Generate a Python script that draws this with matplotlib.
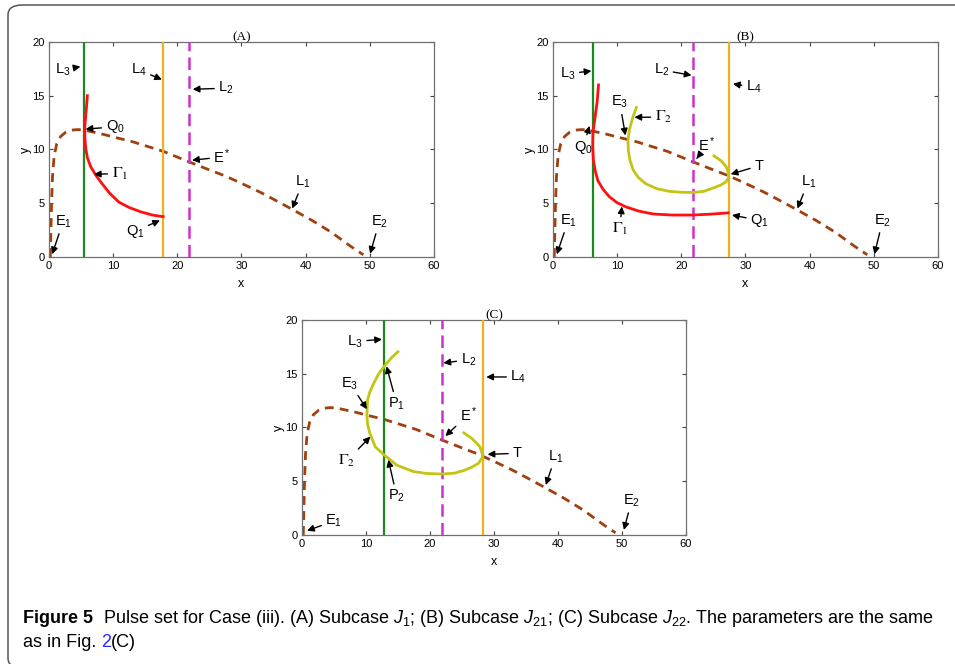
import matplotlib
matplotlib.use('Agg')
import matplotlib.pyplot as plt
from matplotlib.patches import FancyBboxPatch

plt.rcParams['font.family'] = ['Liberation Sans', 'DejaVu Sans']
plt.rcParams['mathtext.fontset'] = 'custom'
plt.rcParams['mathtext.rm'] = 'Liberation Sans'
plt.rcParams['mathtext.it'] = 'Liberation Sans:italic'
plt.rcParams['mathtext.bf'] = 'Liberation Sans:bold'

# prey nullcline L1 (same in all panels)
l1_x = [0.2, 0.3, 0.4, 0.55, 0.8, 1.2, 1.8, 2.6, 3.5, 4.5, 5.5, 7.0, 8.5, 10.1, 12.85, 15.0,
        17.8, 21.85, 25.0, 27.4, 30.0, 33.0, 36.0, 38.0, 41.0, 44.0, 47.0, 49.0]
l1_y = [0.0, 2.5, 5.0, 7.5, 9.4, 10.5, 11.2, 11.6, 11.8, 11.85, 11.8, 11.6, 11.4, 11.15, 10.75, 10.35,
        9.83, 8.84, 8.1, 7.55, 6.85, 6.0, 5.05, 4.4, 3.4, 2.3, 1.0, 0.2]

# vertical lines: L3, L2, L4
l3_pos = [5.4, 6.23, 12.85]
l2_pos = [21.85, 21.87, 21.85]
l4_pos = [17.8, 27.4, 28.25]

# Gamma_1 (red) in panels A and B
g1a_x = [5.98, 5.85, 5.7, 5.6, 5.57, 5.6, 5.75, 6.0, 6.5, 7.3, 8.3, 9.5, 10.9, 12.5, 14.3, 16.1, 17.8]
g1a_y = [15.0, 14.0, 13.0, 12.3, 11.84, 11.0, 10.0, 9.2, 8.4, 7.6, 6.8, 5.9, 5.1, 4.6, 4.2, 3.9, 3.75]
g1b_x = [7.1, 6.9, 6.5, 6.23, 6.2, 6.3, 6.6, 7.0, 7.8, 8.8, 10.0, 11.4, 13.5, 15.6, 18.5, 21.8, 24.5, 27.3]
g1b_y = [16.0, 14.5, 12.7, 11.6, 10.3, 9.0, 8.0, 7.1, 6.3, 5.6, 5.05, 4.65, 4.25, 4.0, 3.9, 3.9, 3.98, 4.1]

# Gamma_2 (yellow) in panels B and C
g2b_x = [13.0, 12.4, 11.9, 11.7, 11.75, 12.0, 12.5, 13.3, 14.5, 16.2, 18.2, 20.0, 21.8, 23.5, 24.9, 26.2, 27.0, 27.4, 27.3, 27.0, 26.2, 25.1]
g2b_y = [13.9, 12.9, 11.8, 10.8, 9.9, 9.0, 8.1, 7.4, 6.8, 6.35, 6.1, 6.02, 6.0, 6.1, 6.4, 6.7, 7.0, 7.4, 7.9, 8.4, 8.95, 9.4]
g2c_x = [15.0, 14.0, 13.0, 12.0, 11.2, 10.6, 10.25, 10.15, 10.25, 10.6, 11.45, 12.85, 14.8, 17.4, 19.5, 21.85, 23.8, 25.2, 26.5, 27.6, 28.25, 28.1, 27.8, 27.2, 26.5, 25.3]
g2c_y = [17.05, 16.5, 15.8, 15.0, 14.1, 13.3, 12.56, 11.16, 10.3, 9.46, 8.2, 7.44, 6.5, 5.9, 5.72, 5.67, 5.75, 5.98, 6.3, 6.67, 7.29, 7.7, 8.2, 8.6, 9.0, 9.5]

# annotations: (label, text x, text y, tip x, tip y, serif)
labels_a = [
    (r'$\mathrm{L}_3$', 2.1, 17.4, 4.9, 17.7, False),
    (r'$\mathrm{L}_4$', 14.0, 17.4, 17.6, 16.5, False),
    (r'$\mathrm{L}_2$', 27.6, 15.7, 22.4, 15.6, False),
    (r'$\mathrm{Q}_0$', 10.3, 12.1, 5.7, 11.9, False),
    (r'$\Gamma_1$', 11.0, 7.75, 7.0, 7.7, True),
    (r'$\mathrm{E}^*$', 27.0, 9.3, 22.3, 9.0, False),
    (r'$\mathrm{L}_1$', 39.6, 7.0, 37.9, 4.5, False),
    (r'$\mathrm{E}_2$', 51.5, 3.3, 50.05, 0.3, False),
    (r'$\mathrm{E}_1$', 2.2, 3.3, 0.5, 0.25, False),
    (r'$\mathrm{Q}_1$', 13.4, 2.4, 17.3, 3.4, False),
]
labels_b = [
    (r'$\mathrm{L}_3$', 2.3, 17.05, 6.0, 17.3, False),
    (r'$\mathrm{L}_2$', 16.9, 17.4, 21.6, 16.9, False),
    (r'$\mathrm{L}_4$', 31.3, 15.8, 28.05, 16.1, False),
    (r'$\mathrm{E}_3$', 10.4, 14.4, 11.3, 11.3, False),
    (r'$\Gamma_2$', 17.2, 13.0, 12.7, 13.0, True),
    (r'$\mathrm{Q}_0$', 4.7, 10.2, 5.7, 12.2, False),
    (r'$\mathrm{E}^*$', 24.0, 10.4, 22.4, 9.15, False),
    (r'$\mathrm{T}$', 32.2, 8.5, 27.7, 7.7, False),
    (r'$\mathrm{L}_1$', 39.8, 7.0, 38.1, 4.5, False),
    (r'$\Gamma_1$', 10.4, 2.6, 10.75, 4.7, True),
    (r'$\mathrm{Q}_1$', 32.2, 3.4, 27.9, 3.9, False),
    (r'$\mathrm{E}_1$', 2.4, 3.4, 0.6, 0.25, False),
    (r'$\mathrm{E}_2$', 51.4, 3.4, 50.1, 0.25, False),
]
labels_c = [
    (r'$\mathrm{L}_3$', 8.3, 18.0, 12.5, 18.2, False),
    (r'$\mathrm{L}_2$', 26.0, 16.3, 22.1, 16.0, False),
    (r'$\mathrm{L}_4$', 33.8, 14.7, 28.8, 14.7, False),
    (r'$\mathrm{P}_1$', 14.8, 12.2, 13.2, 15.7, False),
    (r'$\mathrm{E}_3$', 7.5, 14.1, 10.15, 11.7, False),
    (r'$\mathrm{E}^*$', 26.0, 11.2, 22.4, 9.2, False),
    (r'$\Gamma_2$', 7.0, 6.9, 10.7, 9.15, True),
    (r'$\mathrm{T}$', 33.7, 7.6, 29.0, 7.5, False),
    (r'$\mathrm{L}_1$', 39.6, 7.3, 38.1, 4.65, False),
    (r'$\mathrm{P}_2$', 14.8, 3.6, 13.5, 7.0, False),
    (r'$\mathrm{E}_1$', 5.0, 1.3, 0.8, 0.4, False),
    (r'$\mathrm{E}_2$', 51.5, 3.2, 50.3, 0.47, False),
]

C_L1 = '#a0400f'
C_L2 = '#cc33cc'
C_L3 = '#1a8a1a'
C_L4 = '#edb120'
C_G1 = '#ff1010'
C_G2 = '#c4c412'


def draw_panel(ax, i, title, curves, labels):
    ax.plot(l1_x, l1_y, color=C_L1, lw=2, ls=(0, (3.2, 2.2)), zorder=2)
    ax.axvline(l3_pos[i], color=C_L3, lw=1.6, zorder=3)
    ax.axvline(l2_pos[i], color=C_L2, lw=1.8, ls=(0, (5, 2.5)), zorder=3)
    ax.axvline(l4_pos[i], color=C_L4, lw=1.6, zorder=3)
    for cx, cy, col in curves:
        ax.plot(cx, cy, color=col, lw=2, zorder=4)
    for txt, tx, ty, px, py, serif in labels:
        ax.annotate(txt, xy=(px, py), xytext=(tx, ty), ha='center', va='center',
                    fontsize=11.5 if serif else 10.5,
                    math_fontfamily='stix' if serif else 'custom',
                    arrowprops=dict(arrowstyle='-|>', color='black', lw=1,
                                    mutation_scale=10, shrinkA=1, shrinkB=0),
                    zorder=5)
    ax.set_xlim(0, 60)
    ax.set_ylim(0, 20)
    ax.set_xticks(range(0, 61, 10))
    ax.set_yticks(range(0, 21, 5))
    ax.tick_params(direction='in', top=True, right=True, length=3, width=0.8,
                   labelsize=8, pad=3, color='#404040')
    for s in ax.spines.values():
        s.set_color('#707070')
        s.set_linewidth(0.9)
    ax.set_xlabel('x', fontsize=9, labelpad=5)
    ax.set_ylabel('y', fontsize=9, labelpad=0, rotation=90)
    ax.set_title(title, fontsize=9.5, family='Liberation Serif', pad=1)


fig = plt.figure(figsize=(9.55, 6.64), dpi=100)
ax_a = fig.add_axes([0.0513, 0.613, 0.4031, 0.3238])
ax_b = fig.add_axes([0.579, 0.613, 0.4031, 0.3238])
ax_c = fig.add_axes([0.3162, 0.1943, 0.4021, 0.3238])

draw_panel(ax_a, 0, '(A)', [(g1a_x, g1a_y, C_G1)], labels_a)
draw_panel(ax_b, 1, '(B)', [(g1b_x, g1b_y, C_G1), (g2b_x, g2b_y, C_G2)], labels_b)
draw_panel(ax_c, 2, '(C)', [(g2c_x, g2c_y, C_G2)], labels_c)

# outer frame, right and bottom edges run off the page
frame = FancyBboxPatch((8 / 955, -4 / 664), 1.2, 663 / 664, transform=fig.transFigure,
                       boxstyle='round,pad=0,rounding_size=0.015', fill=False,
                       ec='#555555', lw=1.1, clip_on=False)
fig.patches.append(frame)

# caption
cap_font = ['Liberation Sans', 'DejaVu Sans']
cap_size = 13
fig.text(23 / 955, 1 - 623 / 664, 'Figure 5', fontsize=cap_size, weight='bold', family=cap_font, va='baseline')
fig.text(103 / 955, 1 - 623 / 664,
         r'Pulse set for Case (iii). (A) Subcase $\mathit{J}_1$; (B) Subcase $\mathit{J}_{21}$; '
         r'(C) Subcase $\mathit{J}_{22}$. The parameters are the same',
         fontsize=cap_size, family=cap_font, va='baseline', math_fontfamily='custom')
t1 = fig.text(23 / 955, 1 - 647 / 664, 'as in Fig. ', fontsize=cap_size, family=cap_font, va='baseline')
fig.canvas.draw()
bb = t1.get_window_extent()
t2 = fig.text(bb.x1 / 955, 1 - 647 / 664, '2', fontsize=cap_size, family=cap_font, va='baseline', color='#2a2aff')
fig.canvas.draw()
bb2 = t2.get_window_extent()
fig.text(bb2.x1 / 955, 1 - 647 / 664, '(C)', fontsize=cap_size, family=cap_font, va='baseline')

fig.savefig('out.png', dpi=100)
